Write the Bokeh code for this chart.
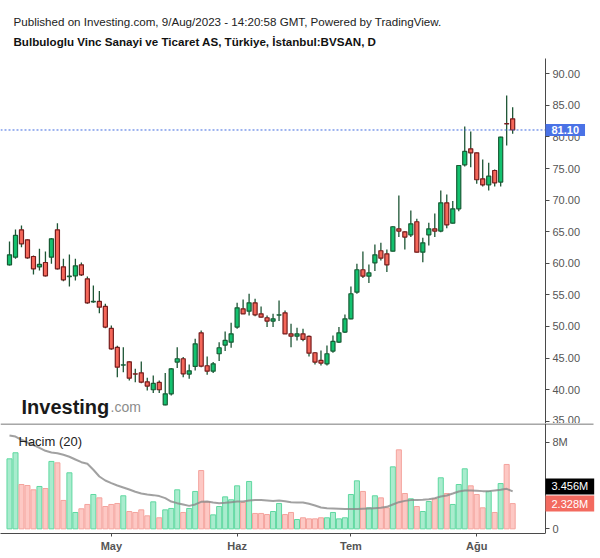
import pandas as pd
from bokeh.plotting import figure
from bokeh.models import Range1d, FixedTicker, Label, NumeralTickFormatter, ColumnDataSource
from bokeh.layouts import column
from bokeh.embed import file_html
from bokeh.resources import INLINE

# ---------------- data ----------------
holidays = ["2023-04-21", "2023-05-01", "2023-05-19", "2023-06-28", "2023-06-29", "2023-06-30"]
dates = [d for d in pd.bdate_range("2023-04-05", "2023-08-09") if d.strftime("%Y-%m-%d") not in holidays]
month_names = {4: "Nis", 5: "May", 6: "Haz", 7: "Tem", 8: "Ağu"}

opens = [59.76, 60.97, 65.30, 63.71, 61.07, 59.44, 60.12, 60.97, 65.30, 59.44,
         57.90, 58.01, 59.76, 57.54, 53.90, 53.95, 53.16, 49.68, 46.67, 43.88,
         44.40, 42.50, 42.66, 41.23, 39.97, 41.13, 37.59, 39.33, 44.35, 44.88,
         42.45, 43.66, 48.99, 43.77, 42.92, 45.67, 47.04, 47.51, 49.89, 52.79,
         52.42, 53.74, 52.00, 51.37, 50.84, 51.80, 52.16, 48.83, 48.46, 48.83,
         48.41, 45.83, 44.61, 44.08, 46.09, 47.51, 49.10, 51.21, 55.43, 58.97,
         57.96, 60.07, 61.98, 61.50, 61.92, 65.46, 64.98, 64.51, 66.57, 61.76,
         64.51, 65.46, 65.09, 69.57, 66.35, 68.62, 75.59, 78.12, 77.49, 73.37,
         72.42, 74.69, 72.85, 82.10, 82.87]
highs = [63.45, 65.35, 65.98, 63.80, 61.23, 62.29, 61.87, 64.00, 66.35, 60.71,
         61.39, 60.71, 60.13, 57.91, 56.48, 55.59, 53.58, 50.15, 46.93, 46.72,
         44.50, 43.29, 44.45, 41.87, 42.24, 41.44, 42.61, 43.40, 46.72, 45.14,
         43.98, 48.04, 49.36, 45.25, 44.35, 47.51, 49.20, 50.57, 53.74, 54.27,
         55.17, 54.37, 53.16, 51.74, 52.00, 54.11, 52.53, 50.42, 49.78, 49.62,
         48.57, 45.90, 46.20, 46.99, 48.57, 49.89, 51.89, 56.33, 59.92, 61.87,
         59.81, 62.98, 63.24, 62.19, 65.85, 70.74, 65.05, 68.36, 67.04, 64.03,
         66.41, 67.89, 71.53, 70.89, 69.84, 75.55, 81.66, 80.87, 77.55, 76.43,
         75.91, 74.85, 80.05, 86.57, 84.72]
lows = [59.65, 60.71, 62.55, 60.70, 58.22, 58.86, 57.90, 59.91, 59.00, 57.17,
        56.33, 57.28, 58.00, 53.60, 53.74, 52.10, 49.73, 46.30, 41.97, 42.76,
        41.44, 41.18, 41.02, 39.86, 39.44, 39.44, 37.50, 39.07, 43.40, 41.97,
        41.71, 43.03, 43.55, 42.34, 42.61, 44.51, 46.09, 46.62, 49.63, 51.95,
        51.74, 51.63, 51.40, 49.89, 49.89, 50.84, 48.80, 46.72, 47.78, 47.67,
        45.25, 43.98, 43.82, 43.82, 45.83, 47.36, 48.94, 51.15, 55.17, 57.65,
        56.86, 58.76, 60.44, 58.60, 61.85, 64.14, 62.19, 64.14, 61.70, 60.18,
        62.82, 64.14, 64.93, 65.56, 66.30, 68.25, 75.33, 75.22, 72.58, 72.16,
        71.53, 72.16, 72.16, 78.65, 80.50]
closes = [61.34, 64.40, 63.08, 60.86, 59.12, 59.81, 58.01, 63.87, 59.12, 57.38,
          57.96, 59.60, 58.17, 53.74, 53.95, 53.05, 49.89, 46.46, 43.55, 43.92,
          41.81, 42.45, 41.18, 40.55, 40.97, 39.97, 39.33, 43.29, 44.88, 42.50,
          42.97, 47.25, 43.71, 42.92, 44.08, 46.62, 47.78, 48.83, 52.95, 52.00,
          53.74, 51.84, 51.47, 50.84, 51.21, 51.84, 48.83, 48.46, 48.83, 47.94,
          45.77, 44.35, 44.19, 45.67, 47.62, 48.99, 51.21, 55.17, 58.97, 57.96,
          58.49, 61.34, 60.81, 59.76, 65.78, 65.09, 64.14, 66.25, 61.76, 63.24,
          65.46, 65.09, 69.57, 66.09, 68.62, 75.48, 77.70, 77.49, 73.22, 72.42,
          73.79, 72.74, 79.97, 82.05, 81.10]
volume_m = [6.46, 7.02, 4.09, 4.00, 3.60, 3.91, 3.72, 6.22, 6.09, 2.62,
            5.17, 1.51, 1.85, 2.25, 3.17, 2.86, 2.06, 2.25, 2.34, 3.05,
            1.60, 1.51, 1.75, 1.20, 2.49, 1.02, 1.75, 1.88, 3.60, 1.51,
            1.88, 3.45, 5.38, 2.49, 1.29, 2.06, 2.95, 2.68, 3.97, 2.43,
            4.37, 1.42, 1.42, 1.32, 1.60, 2.34, 1.32, 1.51, 0.86, 1.02,
            0.92, 0.92, 1.02, 1.02, 1.51, 0.92, 1.02, 3.17, 4.43, 3.45,
            1.94, 3.05, 2.86, 1.94, 5.72, 7.29, 3.26, 2.77, 2.06, 1.60,
            2.52, 2.77, 4.71, 3.26, 2.25, 4.09, 5.54, 3.97, 3.17, 1.94,
            3.45, 1.51, 4.18, 5.94, 2.328]
volume_ma20_m = [8.62, 8.52, 8.22, 7.97, 7.72, 7.48, 7.20, 7.05, 6.98, 6.83,
                 6.65, 6.40, 6.15, 6.00, 5.45, 4.83, 4.46, 4.22, 4.00, 3.82,
                 3.63, 3.42, 3.26, 3.17, 3.11, 3.02, 2.83, 2.52, 2.37, 2.25,
                 2.12, 2.25, 2.49, 2.52, 2.43, 2.37, 2.40, 2.46, 2.52, 2.52,
                 2.62, 2.65, 2.65, 2.62, 2.58, 2.62, 2.55, 2.46, 2.43, 2.43,
                 2.31, 2.15, 1.97, 1.91, 1.88, 1.85, 1.82, 1.82, 1.82, 1.85,
                 1.88, 1.91, 1.94, 2.03, 2.25, 2.46, 2.58, 2.65, 2.65, 2.68,
                 2.74, 2.83, 2.98, 3.08, 3.26, 3.45, 3.54, 3.54, 3.51, 3.48,
                 3.48, 3.54, 3.60, 3.69, 3.456]

header_line1 = "Published on Investing.com, 9/Aug/2023 - 14:20:58 GMT, Powered by TradingView."
header_line2 = "Bulbuloglu Vinc Sanayi ve Ticaret AS, Türkiye, İstanbul:BVSAN, D"
price_ticks = [35, 40, 45, 50, 55, 60, 65, 70, 75, 80, 85, 90]
volume_ticks = [0, 8]

# ---------------- layout constants / styles ----------------
FONT = "Liberation Sans"
UP_FILL, UP_LINE = "#13c26f", "#175c35"
DN_FILL, DN_LINE = "#f5675a", "#761c1c"
WICK = "#1d5535"
VUP_FILL, VUP_LINE = "#a9ecce", "#5fd8a0"
VDN_FILL, VDN_LINE = "#fdc8c4", "#f4a39d"
AXIS_C = "#4a4a4a"
LABEL_C = "#555555"

W = 600
PX0, PX_BAR = 9.0, 5.99          # pixel of first bar, pixels per bar
AXIS_PX = 545                    # pixel column of the price / volume axis
x_start = -PX0 / PX_BAR
x_end = (W - PX0) / PX_BAR
x_axis_at = (AXIS_PX - PX0) / PX_BAR
x_sep_end = (593 - PX0) / PX_BAR

P_H = 423                        # price canvas height (includes header)
PRICE_BOTTOM, PX_PER_UNIT = 34.63, 6.316
price_top_vis = 92.42
price_top = PRICE_BOTTOM + P_H / PX_PER_UNIT

n = len(opens)
xs = list(range(n))
up = [c >= o for o, c in zip(opens, closes)]
src = ColumnDataSource(dict(
    x=xs, open=opens, high=highs, low=lows, close=closes,
    top=[max(o, c) for o, c in zip(opens, closes)],
    bottom=[min(o, c) for o, c in zip(opens, closes)],
    fill=[UP_FILL if u else DN_FILL for u in up],
    line=[UP_LINE if u else DN_LINE for u in up],
    vol=volume_m, ma=volume_ma20_m,
    vfill=[VUP_FILL if u else VDN_FILL for u in up],
    vline=[VUP_LINE if u else VDN_LINE for u in up],
))

month_ticks = {}
for i in range(1, len(dates)):
    if dates[i].month != dates[i - 1].month:
        month_ticks[i] = month_names[dates[i].month]

x_range = Range1d(x_start, x_end)


def style_yaxis(ax):
    ax.major_label_text_font = FONT
    ax.major_label_text_font_size = "11px"
    ax.major_label_text_color = LABEL_C
    ax.axis_line_color = AXIS_C
    ax.major_tick_line_color = AXIS_C
    ax.major_tick_in = 0
    ax.major_tick_out = 4
    ax.minor_tick_line_color = None
    ax.major_label_standoff = 3
    ax.fixed_location = x_axis_at


def box_label(**kw):
    pad = kw.pop("pad")
    try:
        return Label(padding=dict(left=pad[0], right=pad[0], top=pad[1], bottom=pad[1]), **kw)
    except Exception:
        return Label(padding=pad[1] + 1, **kw)


# ---------------- price pane ----------------
p1 = figure(width=W, height=P_H, x_range=x_range, y_range=Range1d(PRICE_BOTTOM, price_top),
            output_backend="svg", toolbar_location=None, x_axis_location=None,
            y_axis_location="right", min_border_left=0, min_border_right=0,
            min_border_top=0, min_border_bottom=0)
p1.outline_line_color = None
p1.grid.visible = False
p1.background_fill_color = "white"
p1.border_fill_color = "white"
ya = p1.yaxis[0]
ya.ticker = FixedTicker(ticks=price_ticks)
ya.formatter = NumeralTickFormatter(format="0.00")
style_yaxis(ya)
ya.bounds = (PRICE_BOTTOM, price_top_vis)

p1.segment(x0="x", y0="low", x1="x", y1="high", source=src, line_color=WICK, line_width=1.3)
p1.vbar(x="x", width=0.68, top="top", bottom="bottom", source=src,
        fill_color="fill", line_color="line", line_width=1.2)

p1.line(x=[x_start, x_axis_at], y=[closes[-1], closes[-1]], line_color="#3f6ae0",
        line_dash="2 2", line_width=1)

p1.add_layout(box_label(x=AXIS_PX, y=closes[-1], x_units="screen", y_units="data",
                        text=f"{closes[-1]:.2f}", text_color="white", text_font=FONT,
                        text_font_style="bold", text_font_size="11px",
                        text_align="left", text_baseline="middle",
                        background_fill_color="#4a72e6", pad=(6, 2)))

p1.add_layout(Label(x=13, y=P_H - 20.5, x_units="screen", y_units="screen",
                    text=header_line1, text_font=FONT, text_font_size="11.6px",
                    text_color="#222222", text_baseline="alphabetic"))
p1.add_layout(Label(x=13, y=P_H - 40.5, x_units="screen", y_units="screen",
                    text=header_line2, text_font=FONT, text_font_size="11.6px",
                    text_font_style="bold", text_color="#111111", text_baseline="alphabetic"))

# logo
p1.add_layout(Label(x=21, y=P_H - 406.5, x_units="screen", y_units="screen",
                    text="Investing", text_font=FONT, text_font_size="20px",
                    text_font_style="bold", text_color="#1a1a1a", text_baseline="alphabetic"))
p1.add_layout(Label(x=110, y=P_H - 406.5, x_units="screen", y_units="screen",
                    text=".com", text_font=FONT, text_font_size="14px",
                    text_color="#8c8c8c", text_baseline="alphabetic"))

# ---------------- volume pane ----------------
vtop, vbot = 9.72, -0.43
p2 = figure(width=W, height=135, x_range=x_range, y_range=Range1d(vbot, vtop),
            output_backend="svg", toolbar_location=None, y_axis_location="right",
            min_border_left=0, min_border_right=0, min_border_top=0, min_border_bottom=25)
p2.outline_line_color = None
p2.grid.visible = False
p2.border_fill_color = "white"

vy = p2.yaxis[0]
vy.ticker = FixedTicker(ticks=volume_ticks)
vy.major_label_overrides = {t: (f"{t}M" if t else "0") for t in volume_ticks}
style_yaxis(vy)

vx = p2.xaxis[0]
vx.ticker = FixedTicker(ticks=list(month_ticks.keys()))
vx.major_label_overrides = month_ticks
vx.major_label_text_font = FONT
vx.major_label_text_font_size = "11px"
vx.major_label_text_font_style = "bold"
vx.major_label_text_color = LABEL_C
vx.axis_line_color = AXIS_C
vx.major_tick_line_color = AXIS_C
vx.major_tick_in = 0
vx.major_tick_out = 3
vx.minor_tick_line_color = None
vx.major_label_standoff = 3
vx.bounds = (x_start, x_axis_at)

p2.vbar(x="x", width=0.84, top="vol", bottom=0, source=src,
        fill_color="vfill", line_color="vline", line_width=1)
p2.line(x="x", y="ma", source=src, line_color="#8a8a8a", line_width=2, line_alpha=0.8)

sep_y = vtop - 0.045
p2.line(x=[x_start, x_sep_end], y=[sep_y, sep_y], line_color=AXIS_C, line_width=1)

p2.add_layout(Label(x=18, y=8.1, x_units="screen", y_units="data", text="Hacim (20)",
                    text_font=FONT, text_font_size="13px", text_color="#222222",
                    text_baseline="middle"))

p2.add_layout(box_label(x=AXIS_PX, y=volume_ma20_m[-1], y_offset=5, x_units="screen",
                        y_units="data", text=f"{volume_ma20_m[-1]:.3f}M", text_color="white",
                        text_font=FONT, text_font_size="11px", text_align="left",
                        text_baseline="middle", background_fill_color="#000000", pad=(6, 2)))
p2.add_layout(box_label(x=AXIS_PX, y=volume_m[-1], x_units="screen", y_units="data",
                        text=f"{volume_m[-1]:.3f}M", text_color="white", text_font=FONT,
                        text_font_size="11px", text_align="left", text_baseline="middle",
                        background_fill_color="#f36a5f", pad=(6, 2)))

layout = column(p1, p2, spacing=0)
open("out.html", "w").write(file_html(layout, INLINE))
